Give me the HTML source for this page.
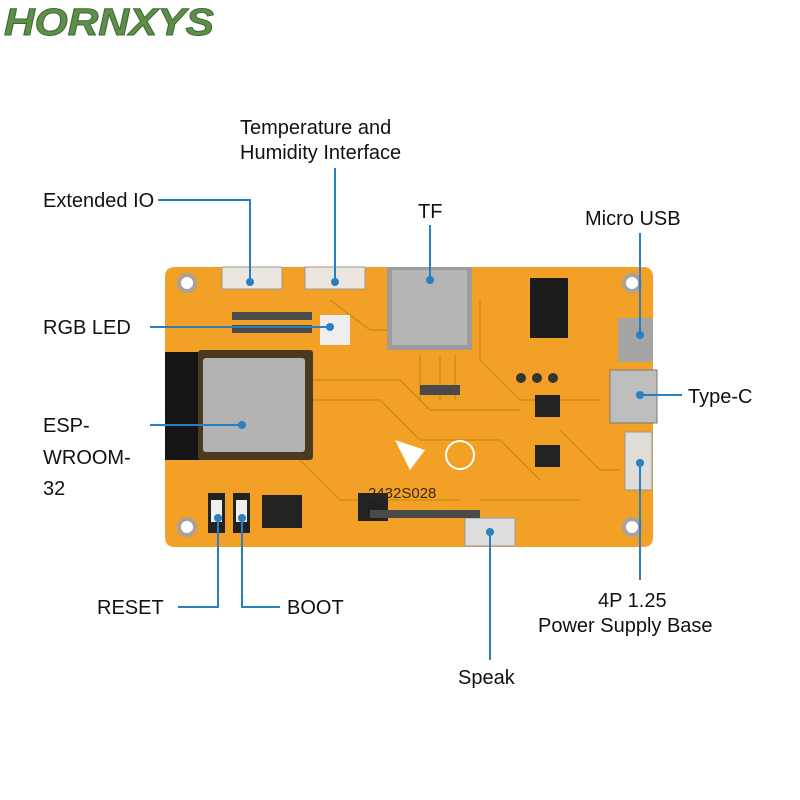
<!DOCTYPE html>
<html><head><meta charset="utf-8"><style>
html,body{margin:0;padding:0;background:#fff;}
svg{display:block}
text{font-family:"Liberation Sans",sans-serif;fill:#111;font-size:20px}
</style></head><body>
<svg width="800" height="800" viewBox="0 0 800 800" xmlns="http://www.w3.org/2000/svg">
<text x="4" y="35" style="font-size:38px;font-weight:bold;font-style:italic;fill:#5e8f4a;stroke:#3f6a30;stroke-width:1" textLength="210" lengthAdjust="spacingAndGlyphs">HORNXYS</text>
<!-- board -->
<path d="M175,267 H643 Q653,267 653,277 V537 Q653,547 643,547 H175 Q165,547 165,537 V460 H203 V352 H165 V277 Q165,267 175,267 Z" fill="#f2a126"/>
<g stroke="#c98a10" stroke-width="1.5" fill="none" opacity="0.8">
<path d="M310,380 H400 L430,410 H520"/><path d="M310,400 H380 L420,440 H500 L540,480"/>
<path d="M300,460 L340,500 H460"/><path d="M480,300 V360 L520,400 H600"/>
<path d="M560,430 L600,470 H620"/><path d="M330,300 L370,330 H390"/>
<path d="M420,355 V400 M440,355 V400 M455,355 V400"/><path d="M480,500 H580"/>
</g>
<rect x="165" y="352" width="42" height="108" fill="#151515"/>
<rect x="198" y="350" width="115" height="110" rx="3" fill="#4a3a20"/>
<rect x="203" y="358" width="102" height="94" rx="3" fill="#b3b3b3"/>
<!-- holes -->
<g fill="#fff" stroke="#a9a19a" stroke-width="4">
<circle cx="187" cy="283" r="8"/><circle cx="632" cy="283" r="8"/><circle cx="187" cy="527" r="8"/><circle cx="632" cy="527" r="8"/></g>
<!-- connectors -->
<rect x="222" y="267" width="60" height="22" fill="#ece6e0" stroke="#999"/>
<rect x="305" y="267" width="60" height="22" fill="#ece6e0" stroke="#999"/>
<rect x="387" y="267" width="85" height="83" fill="#9c9c9c"/>
<rect x="392" y="270" width="75" height="75" fill="#b5b5b5"/>
<rect x="320" y="315" width="30" height="30" fill="#eeeeee"/>
<rect x="530" y="278" width="38" height="60" fill="#1c1c1c"/>
<rect x="618" y="318" width="35" height="44" fill="#a5a5a5"/>
<rect x="610" y="370" width="47" height="53" fill="#bdbdbd" stroke="#777"/>
<rect x="625" y="432" width="27" height="58" fill="#e0dcd8" stroke="#999"/>
<rect x="208" y="493" width="17" height="40" fill="#222"/><rect x="211" y="500" width="11" height="22" fill="#eee"/>
<rect x="233" y="493" width="17" height="40" fill="#222"/><rect x="236" y="500" width="11" height="22" fill="#eee"/>
<rect x="262" y="495" width="40" height="33" fill="#222"/>
<rect x="358" y="493" width="30" height="28" fill="#222"/>
<rect x="465" y="518" width="50" height="28" fill="#ddd" stroke="#999"/>
<rect x="535" y="395" width="25" height="22" fill="#222"/><rect x="535" y="445" width="25" height="22" fill="#222"/>
<circle cx="521" cy="378" r="5" fill="#333"/><circle cx="537" cy="378" r="5" fill="#333"/><circle cx="553" cy="378" r="5" fill="#333"/>
<g fill="#4a4a4a"><rect x="232" y="312" width="80" height="8"/><rect x="232" y="325" width="80" height="8"/>
<rect x="370" y="510" width="110" height="8"/><rect x="420" y="385" width="40" height="10"/></g>
<text x="368" y="498" style="font-size:15px;fill:#3a2a10">2432S028</text>
<path d="M395,440 L425,450 L410,470 Z" fill="#fff"/>
<circle cx="460" cy="455" r="14" fill="none" stroke="#fff" stroke-width="2"/>
<!-- leader lines -->
<g stroke="#2a7fc0" stroke-width="2" fill="none">
<path d="M158,200 H250 V282"/><path d="M335,168 V282"/><path d="M430,225 V280"/>
<path d="M640,233 V335"/><path d="M150,327 H330"/><path d="M640,395 H682"/>
<path d="M150,425 H242"/><path d="M178,607 H218 V518"/><path d="M280,607 H242 V518"/>
<path d="M490,532 V660"/><path d="M640,463 V580"/>
</g>
<g fill="#2a7fc0"><circle cx="250" cy="282" r="4"/><circle cx="335" cy="282" r="4"/><circle cx="430" cy="280" r="4"/>
<circle cx="640" cy="335" r="4"/><circle cx="330" cy="327" r="4"/><circle cx="640" cy="395" r="4"/><circle cx="242" cy="425" r="4"/>
<circle cx="218" cy="518" r="4"/><circle cx="242" cy="518" r="4"/><circle cx="490" cy="532" r="4"/><circle cx="640" cy="463" r="4"/></g>
<text x="240" y="134">Temperature and</text>
<text x="240" y="159">Humidity Interface</text>
<text x="43" y="207">Extended IO</text>
<text x="418" y="218">TF</text>
<text x="585" y="225">Micro USB</text>
<text x="43" y="334">RGB LED</text>
<text x="688" y="403">Type-C</text>
<text x="43" y="432">ESP-</text>
<text x="43" y="464">WROOM-</text>
<text x="43" y="495">32</text>
<text x="97" y="614">RESET</text>
<text x="287" y="614">BOOT</text>
<text x="598" y="607">4P 1.25</text>
<text x="538" y="632">Power Supply Base</text>
<text x="458" y="684">Speak</text>
</svg>
</body></html>
